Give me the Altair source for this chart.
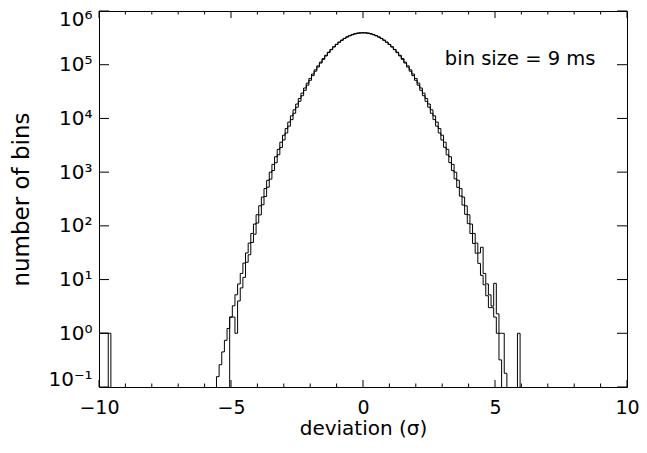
import altair as alt
import pandas as pd

# ---------------- data ----------------
BIN_WIDTH = 0.1
# bin centres -6.0 ... 6.0 (step 0.1)
main_centers = [round(k * 0.1, 1) for k in range(-60, 61)]

series_a = [
    0, 0, 0, 0, 0, 0, 0, 0, 0, 0,                                   # -6.0 .. -5.1
    2, 2, 1, 4, 7, 11, 21, 29, 49, 70,                              # -5.0 .. -4.1
    113, 160, 247, 352, 525, 741, 1072, 1497, 2105, 2889,           # -4.0 .. -3.1
    3966, 5348, 7180, 9498, 12480, 16190, 20830, 26480, 33360, 41560,
    51300, 62620, 75710, 90590, 107300, 125700, 145800, 167500, 190300, 214200,
    238500, 263000, 287000, 309700, 331000, 350000, 366600, 380000, 390000, 396000,
    398000,                                                          # 0.0
    396000, 390000, 380000, 366600, 350000, 331000, 309700, 287000, 263000, 238500,
    214200, 190300, 167500, 145800, 125700, 107300, 90600, 75700, 62630, 51290,
    41570, 33350, 26490, 20820, 16200, 12470, 9506, 7172, 5355, 3958,
    2896, 2097, 1503, 1066, 749, 520, 358, 244, 164, 110,
    72, 47, 31, 20, 12, 8, 5, 3, 3, 2,                              # 4.1 .. 5.0
    1, 1, 1, 0.18, 0, 0, 0, 0, 1, 0,                                # 5.1 .. 6.0
]

series_b = [
    0, 0, 0, 0, 0,                                                  # -6.0 .. -5.6
    0.156, 0.26, 0.45, 0.74, 1.23,                                  # -5.5 .. -5.1
    2.01, 3.25, 5.21, 8.28, 13.0, 20.3, 31.3, 47.8, 72.3, 108,
    161, 236, 344, 495, 706, 998, 1397, 1936, 2656, 3610,
    4859, 6476, 8549, 11170, 14470, 18540, 23540, 29600, 36840, 45420,
    55460, 67070, 80290, 95240, 111800, 130100, 149800, 170900, 192900, 215900,
    239000, 262300, 284900, 306500, 326500, 344500, 360000, 372400, 381500, 387100,
    389000,                                                          # 0.0
    387100, 381500, 372400, 360000, 344500, 326500, 306500, 284900, 262300, 239000,
    215900, 192900, 170900, 149800, 130100, 111800, 95240, 80290, 67070, 55460,
    45420, 36840, 29600, 23540, 18540, 14470, 11170, 8549, 6476, 4859,
    3610, 2656, 1936, 1397, 998, 706, 495, 344, 236, 161,
    108, 72.3, 47.8, 31.3, 40, 13, 8.3, 5.2, 3.2, 8.5,              # 4.1 .. 5.0
    2.3, 0.32, 0, 0, 0, 0, 0, 0, 0, 0,                              # 5.1 .. 6.0
]

# isolated outlier bins near -10 sigma
outlier_a_centers = [-10.0, -9.9, -9.8, -9.7]
outlier_a_counts = [1, 1, 1, 1]
outlier_b_centers = [-10.0, -9.9, -9.8, -9.7, -9.6]
outlier_b_counts = [1, 1, 1, 1, 1]

x_label_values = [-10, -5, 0, 5, 10]
x_minor_ticks = [-9, -8, -7, -6, -4, -3, -2, -1, 1, 2, 3, 4, 6, 7, 8, 9]
y_decades = [0.1, 1, 10, 100, 1000, 1e4, 1e5, 1e6]
y_labels = ["10⁻¹", "10⁰", "10¹", "10²", "10³", "10⁴", "10⁵", "10⁶"]
annotation = "bin size = 9 ms"
annotation_pos = (3.1, 1.0e5)

# ---------------- build step tables ----------------
FLOOR = 1e-4  # empty bins: drawn below the frame and clipped


def step_rows(centers, counts, extra_c, extra_v, name):
    lookup = {round(c, 1): v for c, v in zip(centers, counts)}
    lookup.update({round(c, 1): v for c, v in zip(extra_c, extra_v)})
    rows = []
    for k in range(-102, 103):
        c = round(k * 0.1, 1)
        v = lookup.get(c, 0)
        rows.append({"edge": round(c - BIN_WIDTH / 2, 3),
                     "count": v if v > 0 else FLOOR,
                     "series": name})
    return rows


df = pd.DataFrame(
    step_rows(main_centers, series_a, outlier_a_centers, outlier_a_counts, "A")
    + step_rows(main_centers, series_b, outlier_b_centers, outlier_b_counts, "B")
)

W, H = 528, 376
FONT = "DejaVu Sans"

xs = alt.Scale(domain=[-10, 10], nice=False, zero=False)
ys = alt.Scale(type="log", domain=[0.1, 1e6], nice=False)

y_label_expr = "[" + ",".join("'" + s + "'" for s in y_labels) + "][round(log(datum.value)/LN10)+1]"

x_axis = alt.Axis(values=x_label_values, ticks=False, tickSize=0, domain=False,
                  grid=False, labelFont=FONT, labelFontSize=19, labelPadding=11,
                  labelFlush=False, labelOverlap=False, labelColor="black",
                  labelExpr="datum.value < 0 ? '−' + abs(datum.value) : '' + datum.value",
                  titleFont=FONT, titleFontSize=20, titleFontWeight="normal",
                  titleColor="black", titlePadding=1)
y_axis = alt.Axis(values=y_decades, ticks=False, tickSize=0, domain=False,
                  grid=False, labelFont=FONT, labelFontSize=20, labelPadding=7,
                  labelFlush=True, labelFlushOffset=2, labelOverlap=False,
                  labelColor="black", labelExpr=y_label_expr,
                  titleFont=FONT, titleFontSize=23, titleFontWeight="normal",
                  titleColor="black", titlePadding=14)


def X():
    return alt.X("edge:Q", scale=xs, title="deviation (σ)", axis=x_axis)


def Y():
    return alt.Y("count:Q", scale=ys, title="number of bins", axis=y_axis)


hist = alt.Chart(df).mark_line(
    interpolate="step-after", clip=True, color="black", strokeWidth=1
).encode(x=X(), y=Y(), detail="series:N")

xmaj = pd.DataFrame({"edge": x_label_values})
xmin = pd.DataFrame({"edge": x_minor_ticks})
ydec = pd.DataFrame({"count": y_decades})


def xtick(data, y0, y1):
    return alt.Chart(data).mark_rule(color="black", strokeWidth=1).encode(
        x=X(), y=alt.value(y0), y2=alt.value(y1))


def ytick(x0, x1):
    return alt.Chart(ydec).mark_rule(color="black", strokeWidth=1).encode(
        y=Y(), x=alt.value(x0), x2=alt.value(x1))


ticks = [
    xtick(xmaj, H, H - 7), xtick(xmaj, 0, 7),
    xtick(xmin, H, H - 3.5), xtick(xmin, 0, 3.5),
    ytick(0, 10), ytick(W - 10, W),
]

text = alt.Chart(pd.DataFrame({"edge": [annotation_pos[0]], "count": [annotation_pos[1]],
                               "label": [annotation]})).mark_text(
    align="left", baseline="alphabetic", font=FONT, fontSize=19.5, color="black"
).encode(x=X(), y=Y(), text="label:N")

chart = alt.layer(hist, *ticks, text).properties(
    width=W, height=H,
    padding={"left": 91, "top": 3, "right": 12, "bottom": 55},
    autosize=alt.AutoSizeParams(type="none"),
    background="white",
).configure_view(stroke="black", strokeWidth=1)

chart.save("out.html", embed_options={"renderer": "svg", "actions": False})
